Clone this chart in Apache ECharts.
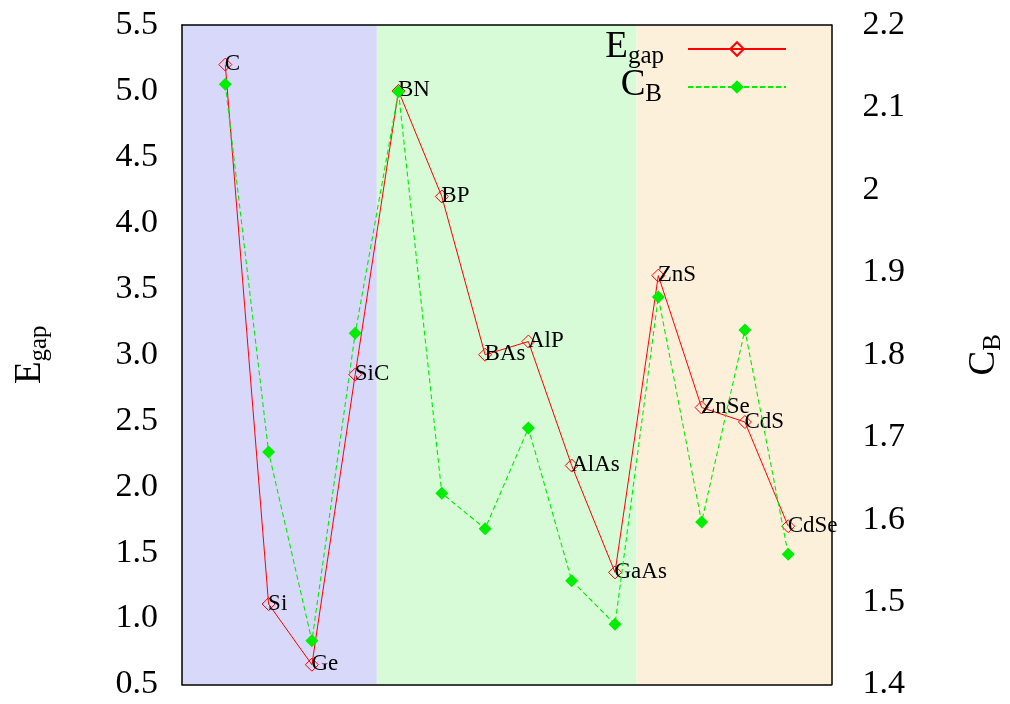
<!DOCTYPE html>
<html>
<head>
<meta charset="utf-8">
<script src="https://cdn.jsdelivr.net/npm/echarts@6/dist/echarts.min.js"></script>
<style>html,body{margin:0;padding:0;background:#fff;}#c{width:1010px;height:704px;}</style>
</head>
<body>
<div id="c"></div>
<script>
const categories = ['C','Si','Ge','SiC','BN','BP','BAs','AlP','AlAs','GaAs','ZnS','ZnSe','CdS','CdSe'];
const egap = [5.2, 1.11, 0.65, 2.85, 5.0, 4.2, 3.0, 3.1, 2.16, 1.35, 3.6, 2.6, 2.49, 1.70];
const cb = [2.128, 1.682, 1.453, 1.826, 2.119, 1.632, 1.589, 1.711, 1.526, 1.473, 1.870, 1.597, 1.830, 1.558];
const bandEdges = [0, 4.5, 10.5, 15];
const bandColors = ['#d8d8fb', '#d7fbd7', '#fdf0da'];

const FONT = 'Liberation Serif';
const rich = {
  a: {fontFamily: FONT, fontSize: 37, lineHeight: 40, verticalAlign: 'top', padding: [0, 0, 5, 0], color: '#000'},
  b: {fontFamily: FONT, fontSize: 25, lineHeight: 25, verticalAlign: 'bottom', color: '#000'}
};
const chart = echarts.init(document.getElementById('c'), null, {renderer: 'canvas'});

const egapData = categories.map((c, i) => [i + 1, egap[i]]);
const cbData = categories.map((c, i) => [i + 1, cb[i]]);
const bands = bandColors.map((col, i) => [{xAxis: bandEdges[i], itemStyle: {color: col}}, {xAxis: bandEdges[i + 1]}]);

const frame = {show: true, onZero: false, lineStyle: {color: '#000', width: 1.5}};
chart.setOption({
  animation: false,
  grid: {left: 182, right: 178.5, top: 25, bottom: 19.5, containLabel: false, outerBoundsMode: 'none'},
  xAxis: [
    {type: 'value', min: 0, max: 15, position: 'bottom', z: 5, axisLine: frame, axisTick: {show: false}, axisLabel: {show: false}, splitLine: {show: false}},
    {type: 'value', min: 0, max: 15, position: 'top', z: 5, axisLine: frame, axisTick: {show: false}, axisLabel: {show: false}, splitLine: {show: false}}
  ],
  yAxis: [
    {type: 'value', min: 0.5, max: 5.5, interval: 0.5, position: 'left', z: 5, axisLine: frame, axisTick: {show: false}, splitLine: {show: false},
     axisLabel: {fontFamily: FONT, fontSize: 34, color: '#000', margin: 24, formatter: v => v.toFixed(1)},
     name: '{a|E}{b|gap}', nameLocation: 'middle', nameRotate: 90, nameGap: 130, nameTextStyle: {rich: rich}},
    {type: 'value', min: 1.4, max: 2.2, interval: 0.1, position: 'right', z: 5, axisLine: frame, axisTick: {show: false}, splitLine: {show: false},
     axisLabel: {fontFamily: FONT, fontSize: 34, color: '#000', margin: 31, formatter: v => String(Math.round(v * 10) / 10)},
     name: '{a|C}{b|B}', nameLocation: 'middle', nameRotate: 90, nameGap: 134, nameTextStyle: {rich: rich}}
  ],
  legend: [
    {data: ['Egap'], right: 223, top: 29, padding: 0, itemWidth: 98, itemHeight: 17, align: 'right', orient: 'vertical',
     formatter: () => '{a|E}{b|gap}', textStyle: {rich: rich, padding: [0, 19, 0, 0]}},
    {data: ['CB'], right: 223, top: 67, padding: 0, itemWidth: 98, itemHeight: 17, align: 'right', orient: 'vertical',
     formatter: () => '{a|C}{b|B}', textStyle: {rich: rich, padding: [0, 21, 0, 0]}}
  ],
  series: [
    {name: 'bands', type: 'line', data: [], z: 1, silent: true, markArea: {silent: true, label: {show: false}, data: bands}},
    {name: 'Egap', type: 'line', xAxisIndex: 0, yAxisIndex: 0, data: egapData, z: 2,
     symbol: 'diamond', symbolSize: 13, showAllSymbol: true,
     itemStyle: {color: 'rgba(255,255,255,0)', borderColor: '#ff0000', borderWidth: 1},
     lineStyle: {color: '#ff0000', width: 1},
     label: {show: true, position: [6.5, 6.5], align: 'left', verticalAlign: 'middle', fontFamily: FONT, fontSize: 23, color: '#000',
             formatter: p => categories[p.dataIndex]}},
    {name: 'CB', type: 'line', xAxisIndex: 0, yAxisIndex: 1, data: cbData, z: 3,
     symbol: 'diamond', symbolSize: 13, showAllSymbol: true,
     itemStyle: {color: '#00ee00', borderWidth: 0},
     lineStyle: {color: '#00ee00', width: 1.1, type: [5, 3]}}
  ]
});
</script>
</body>
</html>
